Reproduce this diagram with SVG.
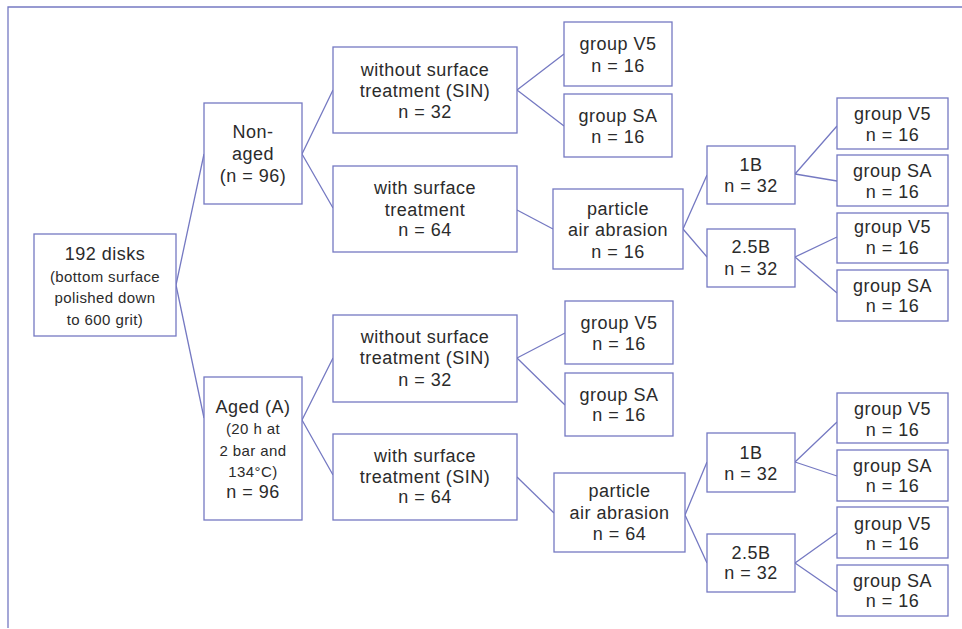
<svg xmlns="http://www.w3.org/2000/svg" width="962" height="629" viewBox="0 0 962 629">
<style>
.b{fill:#fff;stroke:#7579c2;stroke-width:1.3}
.c{fill:none;stroke:#7579c2;stroke-width:1.3}
text{font-family:"Liberation Sans",Arial,sans-serif;fill:#2b2b2b;text-anchor:middle}
.t{font-size:18px;letter-spacing:0.5px}
.s{font-size:15px;letter-spacing:0.4px}
</style>
<rect width="962" height="629" fill="#fff"/>
<path class="c" d="M8,628 V7 H962"/>
<g id="connectors">
<path class="c" d="M176,285 L204,154 M176,285 L204,418"/>
<path class="c" d="M302,154 L333,90 M302,154 L333,208"/>
<path class="c" d="M302,420 L333,358 M302,420 L333,475"/>
<path class="c" d="M517,90 L564,54 M517,90 L564,126"/>
<path class="c" d="M517,210 L553,229"/>
<path class="c" d="M517,358 L565,333 M517,358 L565,405"/>
<path class="c" d="M517,477 L554,513"/>
<path class="c" d="M683,229 L707,175 M683,229 L707,257"/>
<path class="c" d="M685,515 L707,462 M685,515 L707,563"/>
<path class="c" d="M795,174 L837,126 M795,174 L837,181"/>
<path class="c" d="M795,257 L837,237 M795,257 L837,293"/>
<path class="c" d="M795,462 L837,422 M795,462 L837,476"/>
<path class="c" d="M795,563 L837,533 M795,563 L837,592"/>
</g>
<g id="root"><rect class="b" x="34" y="234" width="142" height="102"/>
<text class="t" x="105" y="260">192 disks</text>
<text class="s" x="105" y="282">(bottom surface</text>
<text class="s" x="105" y="303">polished down</text>
<text class="s" x="105" y="325">to 600 grit)</text></g>
<g id="nonaged"><rect class="b" x="204" y="103" width="98" height="101"/>
<text class="t" x="253" y="138">Non-</text>
<text class="t" x="253" y="160">aged</text>
<text class="t" x="253" y="182">(n = 96)</text></g>
<g id="aged"><rect class="b" x="204" y="377" width="98" height="143"/>
<text class="t" x="253" y="413">Aged (A)</text>
<text class="s" x="253" y="434">(20 h at</text>
<text class="s" x="253" y="456">2 bar and</text>
<text class="s" x="253" y="477">134°C)</text>
<text class="t" x="253" y="498">n = 96</text></g>
<g id="without1"><rect class="b" x="333" y="47" width="184" height="86"/>
<text class="t" x="425" y="76">without surface</text>
<text class="t" x="425" y="97">treatment (SIN)</text>
<text class="t" x="425" y="118">n = 32</text></g>
<g id="with1"><rect class="b" x="333" y="166" width="184" height="86"/>
<text class="t" x="425" y="194">with surface</text>
<text class="t" x="425" y="216">treatment</text>
<text class="t" x="425" y="236">n = 64</text></g>
<g id="without2"><rect class="b" x="333" y="315" width="184" height="87"/>
<text class="t" x="425" y="343">without surface</text>
<text class="t" x="425" y="364">treatment (SIN)</text>
<text class="t" x="425" y="386">n = 32</text></g>
<g id="with2"><rect class="b" x="333" y="434" width="184" height="86"/>
<text class="t" x="425" y="462">with surface</text>
<text class="t" x="425" y="483">treatment (SIN)</text>
<text class="t" x="425" y="503">n = 64</text></g>
<g id="v5a"><rect class="b" x="564" y="22" width="108" height="64"/>
<text class="t" x="618" y="50">group V5</text>
<text class="t" x="618" y="72">n = 16</text></g>
<g id="saa"><rect class="b" x="564" y="94" width="108" height="63"/>
<text class="t" x="618" y="122">group SA</text>
<text class="t" x="618" y="143">n = 16</text></g>
<g id="v5b"><rect class="b" x="565" y="301" width="108" height="63"/>
<text class="t" x="619" y="329">group V5</text>
<text class="t" x="619" y="350">n = 16</text></g>
<g id="sab"><rect class="b" x="565" y="373" width="108" height="63"/>
<text class="t" x="619" y="401">group SA</text>
<text class="t" x="619" y="421">n = 16</text></g>
<g id="paa1"><rect class="b" x="553" y="189" width="130" height="80"/>
<text class="t" x="618" y="215">particle</text>
<text class="t" x="618" y="236">air abrasion</text>
<text class="t" x="618" y="258">n = 16</text></g>
<g id="paa2"><rect class="b" x="554" y="473" width="131" height="79"/>
<text class="t" x="619.5" y="497">particle</text>
<text class="t" x="619.5" y="519">air abrasion</text>
<text class="t" x="619.5" y="540">n = 64</text></g>
<g id="b1a"><rect class="b" x="707" y="146" width="88" height="58"/>
<text class="t" x="751" y="171">1B</text>
<text class="t" x="751" y="192">n = 32</text></g>
<g id="b25a"><rect class="b" x="707" y="229" width="88" height="58"/>
<text class="t" x="751" y="253">2.5B</text>
<text class="t" x="751" y="275">n = 32</text></g>
<g id="b1b"><rect class="b" x="707" y="433" width="88" height="59"/>
<text class="t" x="751" y="459">1B</text>
<text class="t" x="751" y="480">n = 32</text></g>
<g id="b25b"><rect class="b" x="707" y="534" width="88" height="58"/>
<text class="t" x="751" y="559">2.5B</text>
<text class="t" x="751" y="579">n = 32</text></g>
<g id="r1"><rect class="b" x="837" y="98" width="111" height="51"/>
<text class="t" x="892.5" y="120">group V5</text>
<text class="t" x="892.5" y="141">n = 16</text></g>
<g id="r2"><rect class="b" x="837" y="155" width="111" height="51"/>
<text class="t" x="892.5" y="177">group SA</text>
<text class="t" x="892.5" y="198">n = 16</text></g>
<g id="r3"><rect class="b" x="837" y="213" width="111" height="50"/>
<text class="t" x="892.5" y="233">group V5</text>
<text class="t" x="892.5" y="254">n = 16</text></g>
<g id="r4"><rect class="b" x="837" y="270" width="111" height="51"/>
<text class="t" x="892.5" y="292">group SA</text>
<text class="t" x="892.5" y="312">n = 16</text></g>
<g id="r5"><rect class="b" x="837" y="393" width="111" height="50"/>
<text class="t" x="892.5" y="415">group V5</text>
<text class="t" x="892.5" y="436">n = 16</text></g>
<g id="r6"><rect class="b" x="837" y="450" width="111" height="51"/>
<text class="t" x="892.5" y="472">group SA</text>
<text class="t" x="892.5" y="492">n = 16</text></g>
<g id="r7"><rect class="b" x="837" y="507" width="111" height="51"/>
<text class="t" x="892.5" y="530">group V5</text>
<text class="t" x="892.5" y="550">n = 16</text></g>
<g id="r8"><rect class="b" x="837" y="565" width="111" height="51"/>
<text class="t" x="892.5" y="587">group SA</text>
<text class="t" x="892.5" y="607">n = 16</text></g>
</svg>
